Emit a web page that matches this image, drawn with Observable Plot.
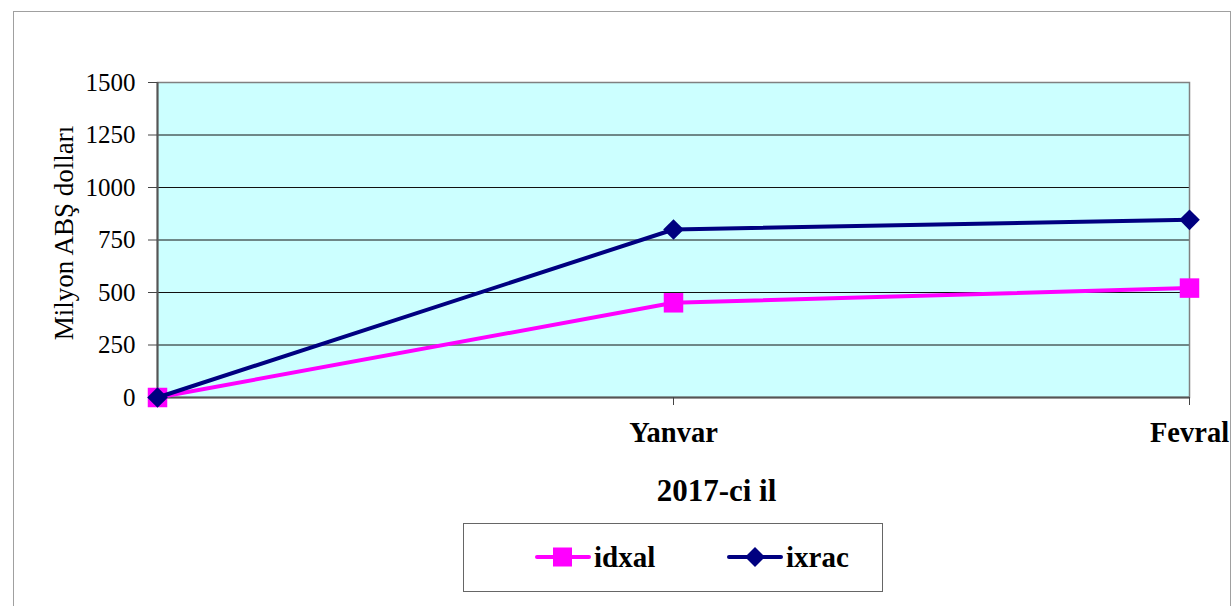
<!DOCTYPE html>
<html>
<head>
<meta charset="utf-8">
<script src="https://cdn.jsdelivr.net/npm/d3@7"></script>
<script src="https://cdn.jsdelivr.net/npm/@observablehq/plot@0.6"></script>
<style>
  html, body { margin: 0; padding: 0; background: #fff; }
  body { width: 1232px; height: 606px; overflow: hidden; position: relative; font-family: "Liberation Serif", "Times New Roman", serif; }
  #frame { position: absolute; left: 13px; top: 11px; width: 1218px; height: 700px; border: 1px solid #a0a0a0; box-sizing: border-box; pointer-events: none; }
  #chart { position: relative; }
  #legend { position: relative; margin-left: 463px; margin-top: 8px; width: 420px; height: 69px; border: 1.5px solid #666; box-sizing: border-box; background: #fff; }
  .item { position: absolute; top: 0; height: 66px; display: flex; align-items: center; }
  .item span { font-weight: bold; font-size: 29px; color: #000; margin-left: 3px; line-height: 1; }
</style>
</head>
<body>
<div id="frame"></div>
<div id="chart"></div>
<div id="legend"></div>
<script>
const months = ["", "Yanvar", "Fevral"];
const seriesNames = ["idxal", "ixrac"];
const idxal = [0, 451, 521];
const ixrac = [0, 800, 846];
const seriesColors = ["#ff00ff", "#000080"];
const yTicks = [0, 250, 500, 750, 1000, 1250, 1500];
const gridTicks = [250, 500, 750, 1000, 1250];
const yLabel = "Milyon ABŞ dolları";
const xLabel = "2017-ci il";

const data = [];
months.forEach((m, i) => {
  data.push({month: m, series: "idxal", value: idxal[i]});
  data.push({month: m, series: "ixrac", value: ixrac[i]});
});
const dIdx = data.filter(d => d.series === "idxal");
const dIx = data.filter(d => d.series === "ixrac");

const chart = Plot.plot({
  width: 1232,
  height: 515,
  marginLeft: 157,
  marginRight: 43,
  marginTop: 82,
  marginBottom: 118,
  style: {fontFamily: "'Liberation Serif', 'Times New Roman', serif", background: "transparent", color: "#000", overflow: "visible"},
  x: {type: "point", domain: months, padding: 0},
  y: {domain: [0, 1500]},
  color: {domain: seriesNames, range: seriesColors},
  marks: [
    Plot.frame({fill: "#ccffff", stroke: "none"}),
    Plot.ruleY(gridTicks, {stroke: "#111", strokeWidth: 1}),
    Plot.frame({stroke: "#808080", strokeWidth: 1.5}),
    Plot.ruleX([months[0]], {stroke: "#555", strokeWidth: 2}),
    Plot.ruleY([0], {stroke: "#555", strokeWidth: 2}),
    Plot.axisY({ticks: yTicks, tickSize: 9, tickPadding: 13, fontSize: 25, label: null, stroke: "#444", tickFormat: d => String(d)}),
    Plot.axisX({tickSize: 8, tickPadding: 16, fontSize: 28.5, fontWeight: "bold", label: null, stroke: "#444"}),
    Plot.text([yLabel], {frameAnchor: "left", textAnchor: "middle", dx: -93, dy: -7, rotate: -90, fontSize: 27}),
    Plot.text([xLabel], {frameAnchor: "bottom", textAnchor: "middle", dx: 43, dy: 94, fontSize: 31, fontWeight: "bold", lineAnchor: "middle", fill: "#000"}),
    Plot.line(dIdx, {x: "month", y: "value", stroke: "series", strokeWidth: 4}),
    Plot.dot(dIdx, {x: "month", y: "value", fill: "series", symbol: "square", r: 11, stroke: "none"}),
    Plot.line(dIx, {x: "month", y: "value", stroke: "series", strokeWidth: 4}),
    Plot.dot(dIx, {x: "month", y: "value", fill: "series", symbol: "diamond2", r: 9.3, stroke: "none"})
  ]
});
document.getElementById("chart").appendChild(chart);

// Legend
const legend = document.getElementById("legend");
const offsets = [71, 263];
const shapes = [
  c => `<rect x="18" y="${11-9.5}" width="19" height="19" fill="${c}"/>`,
  c => `<path d="M28,1 L38,11 L28,21 L18,11 Z" fill="${c}"/>`
];
seriesNames.forEach((name, i) => {
  const item = document.createElement("div");
  item.className = "item";
  item.style.left = offsets[i] + "px";
  const c = seriesColors[i];
  item.innerHTML = `<svg width="56" height="22" viewBox="0 0 56 22"><line x1="2" x2="54" y1="11" y2="11" stroke="${c}" stroke-width="4" stroke-linecap="round"/>${shapes[i](c)}</svg><span>${name}</span>`;
  legend.appendChild(item);
});
</script>
</body>
</html>
